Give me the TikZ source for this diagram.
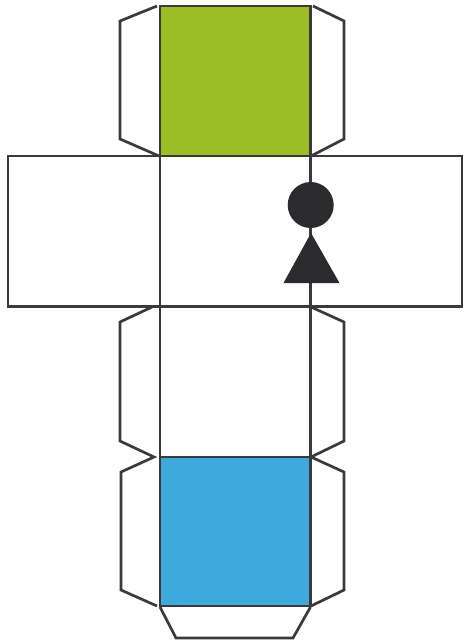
\documentclass[tikz,border=0pt]{standalone}
\definecolor{ink}{HTML}{3A3A3C}
\definecolor{leaf}{HTML}{9BBD26}
\definecolor{sky}{HTML}{3FA9DC}
\definecolor{figdark}{HTML}{2B2B2D}
\tikzset{
  netline/.style={draw=ink,line width=2.7pt,line join=miter},
  flapline/.style={draw=ink,line width=2.7pt,line join=miter,line cap=butt},
}
\begin{document}
\begin{tikzpicture}[x=1pt,y=-1pt]
\useasboundingbox[fill=white] (0,0) rectangle (464,641);
% coloured faces
\fill[leaf] (160,6) rectangle (310.5,156);
\fill[sky] (160,457) rectangle (310.5,606);
% flaps: top pair
\draw[flapline] (157,6) -- (120,21) -- (120,139) -- (159,156);
\draw[flapline] (313,6) -- (344,21) -- (344,139) -- (311,156);
% flaps: middle and lower
\draw[flapline] (152,307) -- (120,322) -- (120,441) -- (154,457) -- (121,472) -- (121,590) -- (157,606);
\draw[flapline] (311,307) -- (344,322) -- (344,441) -- (311,457) -- (344,472) -- (344,590) -- (311,606);
% bottom flap
\draw[flapline] (160,607) -- (176,638) -- (293,638) -- (310.5,607);
% side faces
\draw[netline] (160,156) -- (8,156) -- (8,306.5) -- (160,306.5);
\draw[netline] (310.5,156) -- (462,156) -- (462,306.5) -- (310.5,306.5);
% central column
\draw[netline] (160,6) rectangle (310.5,606);
\draw[netline] (160,156) -- (310.5,156);
\draw[netline] (160,306.5) -- (310.5,306.5);
\draw[netline] (160,457) -- (310.5,457);
% symbol
\fill[figdark] (310.7,205) circle[radius=23];
\fill[figdark] (311,233) -- (339.5,283) -- (283.5,283) -- cycle;
\end{tikzpicture}
\end{document}
